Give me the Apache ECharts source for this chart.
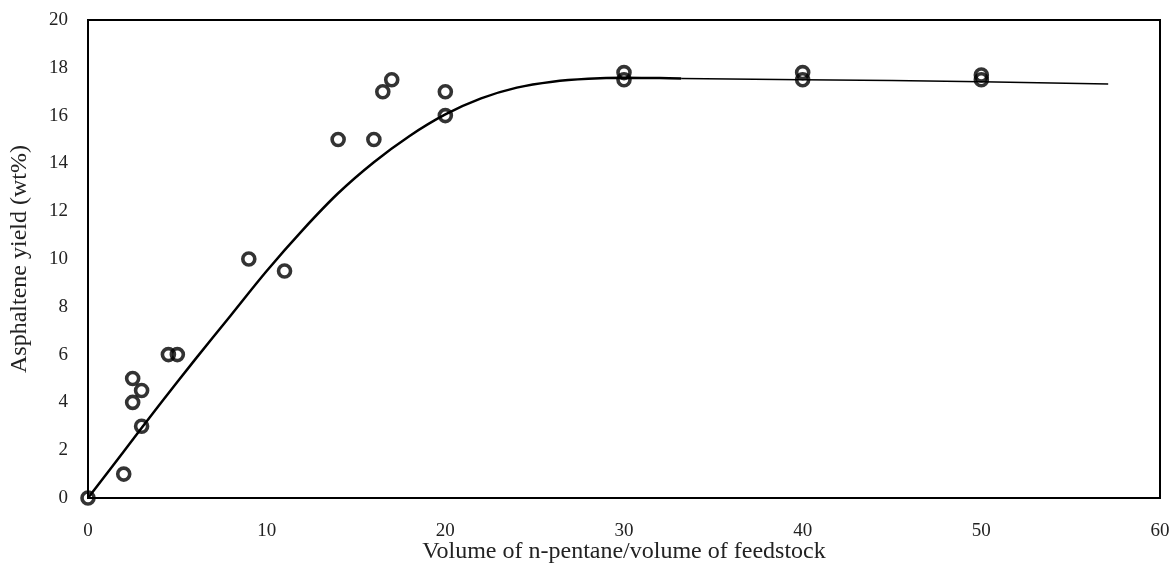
<!DOCTYPE html>
<html>
<head>
<meta charset="utf-8">
<script src="https://cdn.jsdelivr.net/npm/echarts@6/dist/echarts.min.js"></script>
<style>
  html, body { margin: 0; padding: 0; background: #fff; }
  #chart { width: 1173px; height: 577px; }
</style>
</head>
<body>
<div id="chart"></div>
<script>
// Measured asphaltene yield (wt%) against solvent-to-feed volume ratio
const ratioX = [0, 2, 2.5, 2.5, 3, 3, 4.5, 5, 9, 11, 14, 16, 16.5, 17, 20, 20, 30, 30, 40, 40, 50, 50];
const yieldY = [0, 1, 4, 5, 4.5, 3, 6, 6, 10, 9.5, 15, 15, 17, 17.5, 17, 16, 17.8, 17.5, 17.8, 17.5, 17.7, 17.5];

// Fitted trend curve (rising part)
const fitX = [0, 2, 4, 6, 8, 10, 12, 14, 16, 18, 20, 22, 24, 26, 28, 30, 32, 33.2];
const fitY = [0, 1.95, 3.9, 5.8, 7.65, 9.5, 11.2, 12.75, 14.05, 15.15, 16.05, 16.72, 17.17, 17.42, 17.54, 17.58, 17.57, 17.55];

// Extension of the trend at high dilution
const tailX = [33.2, 40, 50, 57.1];
const tailY = [17.55, 17.5, 17.42, 17.32];

// Axis ticks
const xTicks = [0, 10, 20, 30, 40, 50, 60];
const yTicks = [0, 2, 4, 6, 8, 10, 12, 14, 16, 18, 20];

const zip = (a, b) => a.map((v, i) => [v, b[i]]);
const serif = '"Liberation Serif", "Times New Roman", serif';

const chart = echarts.init(document.getElementById('chart'));
chart.setOption({
  animation: false,
  backgroundColor: '#fff',
  grid: {
    left: 88, top: 20, right: 13, bottom: 79,
    show: true, borderColor: '#000', borderWidth: 2, backgroundColor: 'transparent'
  },
  xAxis: {
    type: 'value',
    min: xTicks[0], max: xTicks[xTicks.length - 1], interval: 10,
    name: 'Volume of n-pentane/volume of feedstock',
    nameLocation: 'middle', nameGap: 42, nameMoveOverlap: false,
    nameTextStyle: { fontFamily: serif, fontSize: 24, color: '#222' },
    axisLine: { show: true, lineStyle: { color: '#000', width: 2 } },
    axisTick: { show: false },
    splitLine: { show: false },
    axisLabel: { fontFamily: serif, fontSize: 19, color: '#222', margin: 24 }
  },
  yAxis: {
    type: 'value',
    min: yTicks[0], max: yTicks[yTicks.length - 1], interval: 2,
    name: 'Asphaltene yield (wt%)',
    nameLocation: 'middle', nameGap: 56, nameMoveOverlap: false,
    nameTextStyle: { fontFamily: serif, fontSize: 24, color: '#222' },
    axisLine: { show: true, lineStyle: { color: '#000', width: 2 } },
    axisTick: { show: false },
    splitLine: { show: false },
    axisLabel: { fontFamily: serif, fontSize: 19, color: '#222', margin: 20 }
  },
  series: [
    {
      type: 'line',
      data: zip(fitX, fitY),
      smooth: 0.35,
      showSymbol: false,
      lineStyle: { color: '#000', width: 2.5 },
      z: 2
    },
    {
      type: 'line',
      data: zip(tailX, tailY),
      smooth: true,
      showSymbol: false,
      lineStyle: { color: '#000', width: 1.5 },
      z: 2
    },
    {
      type: 'scatter',
      data: zip(ratioX, yieldY),
      symbol: 'circle',
      symbolSize: 12,
      itemStyle: { color: 'rgba(255,255,255,0)', borderColor: '#000', borderWidth: 3.6 },
      z: 3
    }
  ]
});
</script>
</body>
</html>
